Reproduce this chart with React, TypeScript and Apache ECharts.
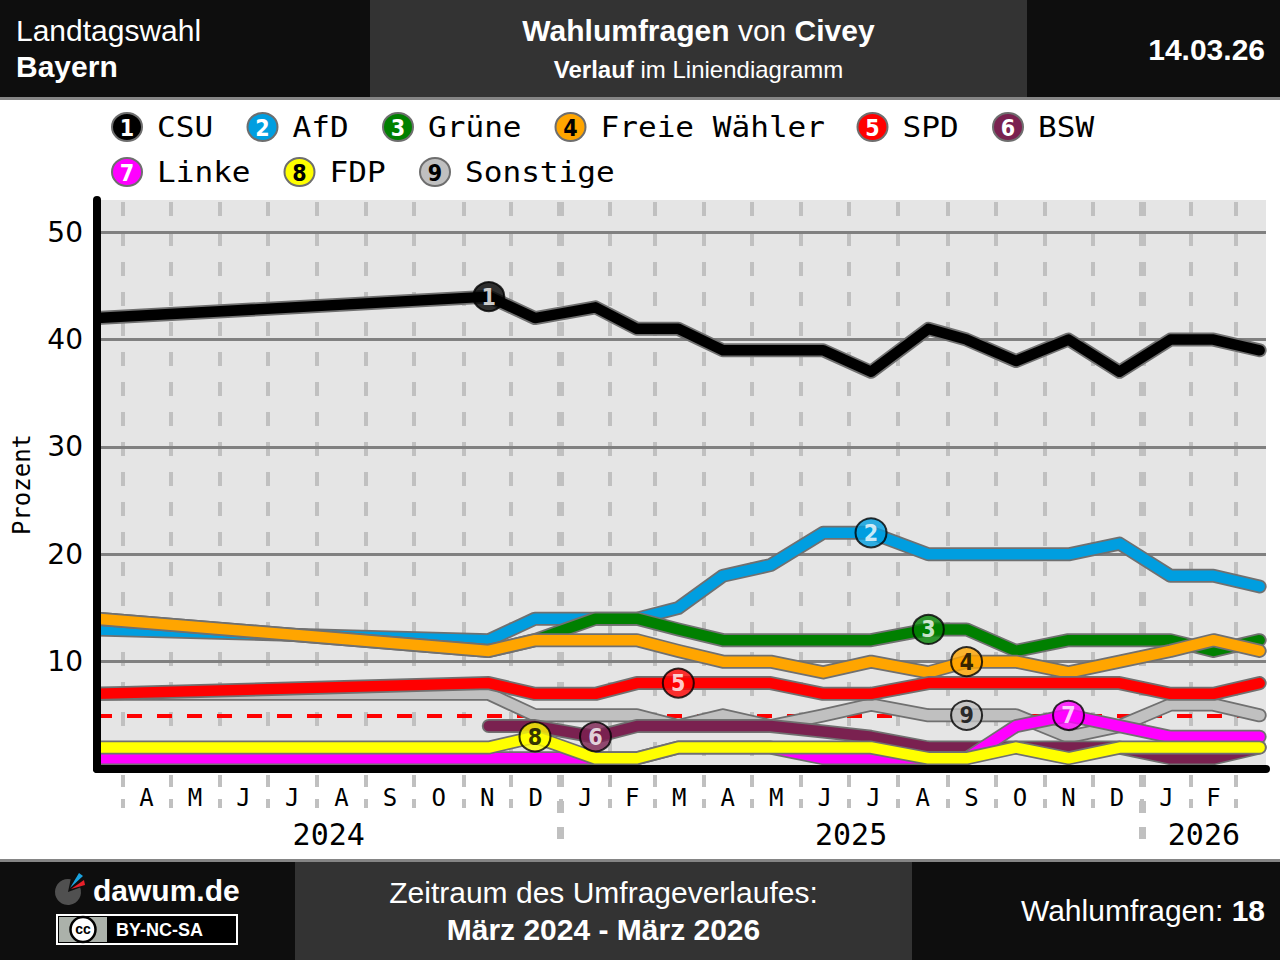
import { useEffect, useRef } from "react";
import * as echarts from "echarts";

// Umfragetermine (Civey)
const POLL_DATES = [
  "2024-03-16", "2024-11-17", "2024-12-16", "2025-01-23", "2025-02-18", "2025-03-16",
  "2025-04-13", "2025-05-13", "2025-06-15", "2025-07-15", "2025-08-20", "2025-09-13",
  "2025-10-14", "2025-11-16", "2025-12-18", "2026-01-19", "2026-02-15", "2026-03-16"
];

const CSU = [42, 44, 42, 43, 41, 41, 39, 39, 39, 37, 41, 40, 38, 40, 37, 40, 40, 39];
const AFD = [13, 12, 14, 14, 14, 15, 18, 19, 22, 22, 20, 20, 20, 20, 21, 18, 18, 17];
const GRUENE = [14, 11, 12, 14, 14, 13, 12, 12, 12, 12, 13, 13, 11, 12, 12, 12, 11, 12];
const FREIE_WAEHLER = [14, 11, 12, 12, 12, 11, 10, 10, 9, 10, 9, 10, 10, 9, 10, 11, 12, 11];
const SPD = [7, 8, 7, 7, 8, 8, 8, 8, 7, 7, 8, 8, 8, 8, 8, 7, 7, 8];
const BSW = [null, 4, 4, 3, 4, 4, 4, 4, 3.5, 3, 2, 2, 2, 2, 2, 1, 1, 2];
const LINKE = [1, 1, 1, 1, 1, 2, 2, 2, 1, 1, 1, 1, 4, 5, 4, 3, 3, 3];
const FDP = [2, 2, 3, 1, 1, 2, 2, 2, 2, 2, 1, 1, 2, 1, 2, 2, 2, 2];
const SONSTIGE = [7, 7, 5, 5, 5, 4, 5, 4, 5, 6, 5, 5, 5, 3, 4, 6, 6, 5];

const PARTIES = ["CSU", "AfD", "Grüne", "Freie Wähler", "SPD", "BSW", "Linke", "FDP", "Sonstige"];
const PARTY_VALUES = [CSU, AFD, GRUENE, FREIE_WAEHLER, SPD, BSW, LINKE, FDP, SONSTIGE];
const COLORS = ["#000000", "#009ee0", "#008000", "#ffa500", "#ff0000", "#7a2150", "#ff00ff", "#ffff00", "#c0c0c0"];
const NUMBER_COLORS = ["#fff", "#fff", "#fff", "#000", "#fff", "#fff", "#fff", "#000", "#000"];
// an welchem Umfragetermin die Nummer der Partei sitzt
const MARKER_INDEX = [1, 9, 10, 11, 5, 3, 13, 2, 11];
// Zeichenreihenfolge: Sonstige zuunterst
const DRAW_ORDER = [8, 0, 1, 2, 3, 4, 5, 6, 7];

const AXIS_START = "2024-03-16";
const AXIS_END = "2026-03-20";
const MONTH_LETTERS = ["J", "F", "M", "A", "M", "J", "J", "A", "S", "O", "N", "D"];
const GRID_VALUES = [10, 20, 30, 40, 50];
const Y_MAX = 53;
const THRESHOLD = 5;

const ts = (d: string) => Date.UTC(+d.slice(0, 4), +d.slice(5, 7) - 1, +d.slice(8, 10));

function monthStarts(): number[] {
  const start = new Date(ts(AXIS_START));
  const end = ts(AXIS_END);
  const out: number[] = [];
  for (let k = 1; ; k += 1) {
    const t = Date.UTC(start.getUTCFullYear(), start.getUTCMonth() + k, 1);
    if (t > end) break;
    out.push(t);
  }
  return out;
}

const mids = (edges: number[]) => edges.slice(1).map((b, i) => (edges[i] + b) / 2);

const MONO = "DejaVu Sans Mono";
const SANS = "'Liberation Sans', Arial, sans-serif";

function legendGraphic() {
  const elements: any[] = [];
  let cx = 127;
  PARTIES.forEach((name, i) => {
    if (i === 6) cx = 127;
    const cy = i < 6 ? 127 : 172;
    elements.push(
      {
        type: "ellipse",
        shape: { cx, cy, rx: 15, ry: 14 },
        style: { fill: COLORS[i], stroke: "#6e6e6e", lineWidth: 2 },
        silent: true
      },
      {
        type: "text",
        x: cx,
        y: cy + 1,
        silent: true,
        style: {
          text: String(i + 1),
          fill: NUMBER_COLORS[i],
          font: "bold 23px 'DejaVu Sans Condensed'",
          align: "center",
          verticalAlign: "middle",
          textAlign: "center",
          textVerticalAlign: "middle"
        }
      },
      {
        type: "text",
        x: cx + 30,
        y: cy + 1,
        scaleX: 1.11,
        silent: true,
        style: {
          text: name,
          fill: "#000",
          font: `28px '${MONO}'`,
          verticalAlign: "middle",
          textVerticalAlign: "middle"
        }
      }
    );
    cx += 30 + name.length * 18.5 + 50;
  });
  // deckt die runden Linienenden links der y-Achse ab
  elements.push({
    type: "rect",
    z: 50,
    silent: true,
    shape: { x: 84, y: 190, width: 9, height: 585 },
    style: { fill: "#fff" }
  });
  return elements;
}

function buildOption() {
  const min = ts(AXIS_START);
  const max = ts(AXIS_END);
  const months = monthStarts();
  const years = months.filter((t) => new Date(t).getUTCMonth() === 0);
  const x = POLL_DATES.map(ts);

  const lineSeries = DRAW_ORDER.flatMap((p) => {
    const data = x.map((t, i) => [t, PARTY_VALUES[p][i] ?? "-"]);
    const base = {
      type: "line",
      data,
      symbol: "none",
      silent: true,
      connectNulls: false,
      z: 2
    };
    return [
      { ...base, name: PARTIES[p] + " Rand", lineStyle: { color: "#707070", width: 14, cap: "round", join: "round" } },
      { ...base, name: PARTIES[p], lineStyle: { color: COLORS[p], width: 10.5, cap: "round", join: "round" } }
    ];
  });

  const markers = {
    type: "scatter",
    z: 4,
    silent: true,
    symbol: "circle",
    symbolSize: [31, 29],
    data: PARTIES.map((_, i) => ({
      value: [x[MARKER_INDEX[i]], PARTY_VALUES[i][MARKER_INDEX[i]]],
      itemStyle: { color: COLORS[i], borderColor: "#000", borderWidth: 2 },
      label: { color: NUMBER_COLORS[i] }
    })),
    label: {
      show: true,
      position: "inside",
      formatter: (p: any) => String(p.dataIndex + 1),
      fontFamily: "DejaVu Sans Condensed",
      fontWeight: "bold",
      fontSize: 23
    }
  };

  const gridLines = {
    type: "line",
    data: [],
    z: 1,
    silent: true,
    markLine: {
      silent: true,
      z: 1,
      symbol: ["none", "none"],
      label: { show: false },
      animation: false,
      data: [
        ...months.map((t) => ({
          xAxis: t,
          lineStyle: {
            color: "#c0c0c0",
            width: years.includes(t) ? 7 : 4,
            type: [14, 16],
            dashOffset: 17
          }
        })),
        ...GRID_VALUES.map((v) => ({
          yAxis: v,
          lineStyle: { color: "#808080", width: 3, type: "solid" }
        })),
        {
          yAxis: THRESHOLD,
          lineStyle: { color: "#ff0000", width: 4, type: [15, 15], dashOffset: 0 }
        }
      ]
    }
  };

  return {
    animation: false,
    grid: {
      left: 97,
      right: 14,
      top: 200,
      bottom: 191,
      show: true,
      backgroundColor: "#e5e5e5",
      borderWidth: 0,
      containLabel: false,
      outerBoundsMode: "none"
    },
    xAxis: [
      {
        type: "value",
        min,
        max,
        z: 10,
        axisLine: { show: true, lineStyle: { color: "#000", width: 8 } },
        axisTick: {
          show: true,
          customValues: months,
          length: 39,
          lineStyle: { color: "#c0c0c0", width: 4, type: [12, 12], dashOffset: -6 }
        },
        axisLabel: {
          show: true,
          customValues: mids(months),
          formatter: (v: number) => MONTH_LETTERS[new Date(v).getUTCMonth()],
          margin: 17,
          fontFamily: MONO,
          fontSize: 24,
          color: "#000"
        },
        splitLine: { show: false }
      },
      {
        type: "value",
        min,
        max,
        z: 10,
        position: "bottom",
        axisLine: { show: false },
        axisTick: {
          show: true,
          customValues: years,
          length: 76,
          lineStyle: { color: "#c0c0c0", width: 7, type: [12, 14], dashOffset: -6 }
        },
        axisLabel: {
          show: true,
          customValues: mids([min, ...years, max]),
          formatter: (v: number) => String(new Date(v).getUTCFullYear()),
          margin: 50,
          fontFamily: MONO,
          fontSize: 30,
          color: "#000"
        },
        splitLine: { show: false }
      }
    ],
    yAxis: {
      type: "value",
      min: 0,
      max: Y_MAX,
      interval: 10,
      z: 10,
      axisLine: { show: true, lineStyle: { color: "#000", width: 8 } },
      axisTick: { show: false },
      splitLine: { show: false },
      axisLabel: {
        formatter: (v: number) => (v > 0 && v % 10 === 0 ? String(v) : ""),
        showMaxLabel: false,
        fontFamily: "DejaVu Sans",
        fontSize: 28,
        color: "#000",
        margin: 14
      },
      name: "Prozent",
      nameLocation: "middle",
      nameGap: 63,
      nameTextStyle: { fontFamily: MONO, fontSize: 24, color: "#000" }
    },
    graphic: legendGraphic(),
    series: [gridLines, ...lineSeries, markers]
  };
}

function Logo() {
  const c = { x: 68, y: 892 };
  const r = 13;
  const pt = (deg: number) => {
    const a = (deg * Math.PI) / 180;
    return `${(c.x + r * Math.cos(a)).toFixed(2)},${(c.y + r * Math.sin(a)).toFixed(2)}`;
  };
  return (
    <svg width={100} height={60} viewBox="40 862 100 60" style={{ position: "absolute", left: 40, top: 862 }}>
      <path d={`M${c.x},${c.y} L${pt(-20)} A${r},${r} 0 1 1 ${pt(-78)} Z`} fill="#505050" />
      <path d="M71,889 L84,880 L85,885 Z" fill="#e8202a" />
      <path d="M70,888 L79,873 L83,876 Z" fill="#1aa3e0" />
    </svg>
  );
}

function CcBadge() {
  return (
    <svg width={182} height={31} style={{ position: "absolute", left: 56, top: 914 }}>
      <rect x={1} y={1} width={180} height={29} fill="#000" stroke="#fff" strokeWidth={2} />
      <rect x={3} y={3} width={48} height={25} fill="#abb1aa" />
      <circle cx={27} cy={15.5} r={12.5} fill="#fff" stroke="#000" strokeWidth={2.5} />
      <text x={27} y={20} textAnchor="middle" fontFamily="'Liberation Sans', Arial" fontWeight="bold" fontSize={14} fill="#000">
        cc
      </text>
      <text x={60} y={22} fontFamily="'Liberation Sans', Arial" fontWeight="bold" fontSize={18} fill="#fff">
        BY-NC-SA
      </text>
    </svg>
  );
}

export default function App() {
  const hostRef = useRef<HTMLDivElement>(null);

  useEffect(() => {
    const host = hostRef.current;
    if (host === null) return;
    const chart = echarts.init(host, undefined, { renderer: "svg" });
    chart.setOption(buildOption() as any);
    return () => chart.dispose();
  }, []);

  const text = (style: React.CSSProperties) => ({
    position: "absolute" as const,
    color: "#fff",
    fontFamily: SANS,
    fontSize: 30,
    lineHeight: "36px",
    whiteSpace: "nowrap" as const,
    ...style
  });

  return (
    <div style={{ position: "absolute", left: 0, top: 0, width: 1280, height: 960, background: "#fff", overflow: "hidden" }}>
      <div ref={hostRef} style={{ position: "absolute", left: 0, top: 0, width: 1280, height: 960 }} />

      {/* Kopf */}
      <div style={{ position: "absolute", left: 0, top: 0, width: 1280, height: 97, background: "#0e0e0e" }} />
      <div style={{ position: "absolute", left: 370, top: 0, width: 657, height: 97, background: "#333" }} />
      <div style={{ position: "absolute", left: 0, top: 97, width: 1280, height: 3, background: "#858585" }} />
      <div style={text({ left: 16, top: 13 })}>Landtagswahl</div>
      <div style={text({ left: 16, top: 49, fontWeight: "bold" })}>Bayern</div>
      <div style={text({ left: 370, width: 657, top: 13, textAlign: "center" })}>
        <b>Wahlumfragen</b> von <b>Civey</b>
      </div>
      <div style={text({ left: 370, width: 657, top: 55, fontSize: 24, lineHeight: "30px", textAlign: "center" })}>
        <b>Verlauf</b> im Liniendiagramm
      </div>
      <div style={text({ right: 15, top: 32, fontWeight: "bold" })}>14.03.26</div>

      {/* Fuß */}
      <div style={{ position: "absolute", left: 0, top: 859, width: 1280, height: 3, background: "#858585" }} />
      <div style={{ position: "absolute", left: 0, top: 862, width: 1280, height: 98, background: "#0e0e0e" }} />
      <div style={{ position: "absolute", left: 295, top: 862, width: 617, height: 98, background: "#333" }} />
      <Logo />
      <div style={text({ left: 93, top: 873, fontWeight: "bold" })}>dawum.de</div>
      <CcBadge />
      <div style={text({ left: 295, width: 617, top: 875, textAlign: "center" })}>Zeitraum des Umfrageverlaufes:</div>
      <div style={text({ left: 295, width: 617, top: 912, textAlign: "center", fontWeight: "bold" })}>
        März 2024 - März 2026
      </div>
      <div style={text({ right: 15, top: 893 })}>
        Wahlumfragen: <b>18</b>
      </div>
    </div>
  );
}
